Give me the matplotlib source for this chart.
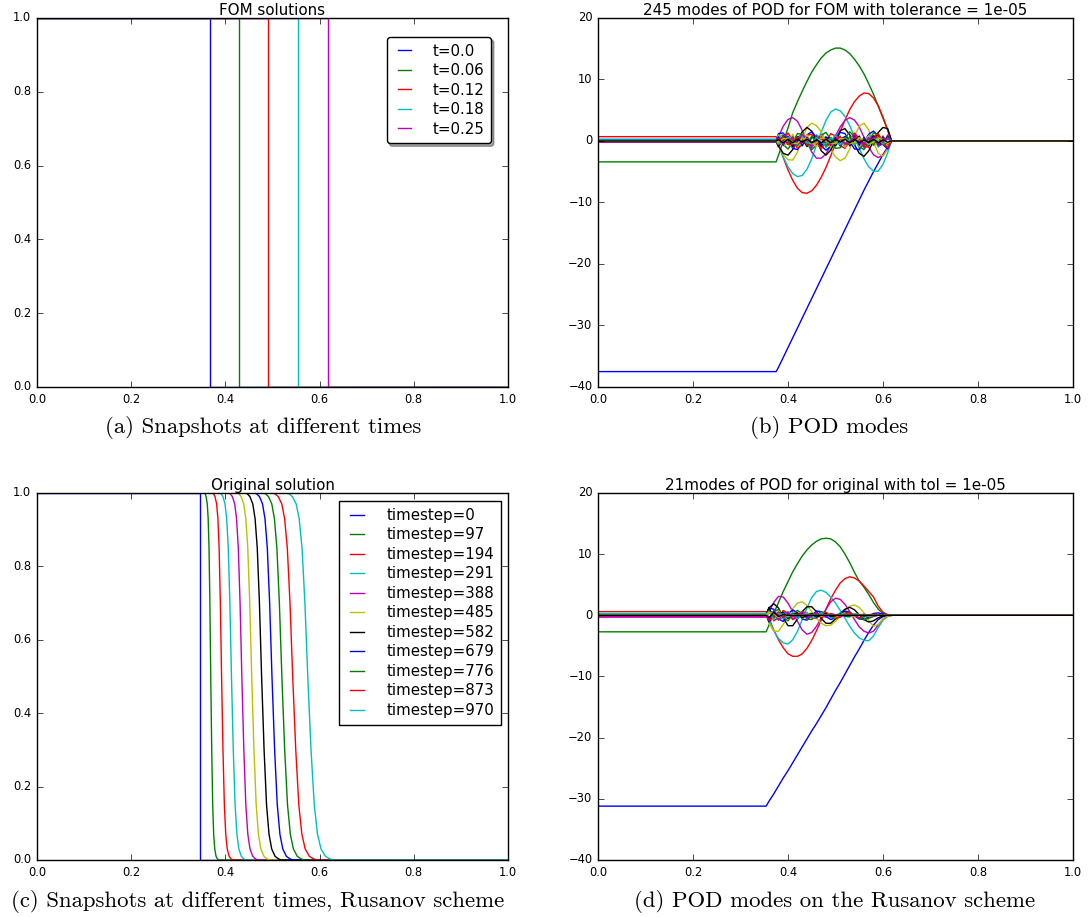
import numpy as np
import matplotlib
matplotlib.use('Agg')
import matplotlib.pyplot as plt

plt.style.use('classic')
plt.rcParams['figure.facecolor'] = 'white'
plt.rcParams['savefig.facecolor'] = 'white'

colors = ['b', 'g', 'r', 'c', 'm', 'y', 'k']

# (a) FOM snapshots: position of the shock at each time
fom_times = ['0.0', '0.06', '0.12', '0.18', '0.25']
fom_fronts = [0.367, 0.429, 0.490, 0.554, 0.618]

# (c) Rusanov snapshots: front centre and half width, shared front profile
rus_steps = [0, 97, 194, 291, 388, 485, 582, 679, 776, 873, 970]
rus_center = [0.346, 0.369, 0.392, 0.413, 0.435, 0.456, 0.477, 0.499, 0.520, 0.543, 0.575]
rus_width = [0.0, 0.0083, 0.0118, 0.0154, 0.017, 0.019, 0.021, 0.0225, 0.024, 0.026, 0.0276]
profile_u = [1.0, 0.998, 0.99, 0.97, 0.93, 0.85, 0.7, 0.5, 0.3, 0.15, 0.07, 0.03, 0.01, 0.003, 0.0]
profile_dx = [-1.7, -1.45, -1.18, -0.89, -0.66, -0.44, -0.22, 0.0, 0.25, 0.5, 0.75, 1.02, 1.36, 1.7, 2.0]

# (b) POD modes of the FOM, sampled on xb (flat before, zero after)
xb = [0.375, 0.38, 0.39, 0.40, 0.41, 0.42, 0.43, 0.44, 0.45, 0.46, 0.47, 0.48, 0.49,
      0.50, 0.51, 0.52, 0.53, 0.54, 0.55, 0.56, 0.57, 0.58, 0.59, 0.60, 0.61, 0.618]
modes_b = [
    [-37.5, -36.8, -35.2, -33.6, -32.0, -30.4, -28.8, -27.2, -25.6, -24.0, -22.4, -20.8, -19.2,
     -17.6, -16.0, -14.4, -12.8, -11.2, -9.6, -8.0, -6.5, -5.0, -3.6, -2.2, -1.0, 0.0],
    [-3.4, -2.3, -0.1, 2.1, 4.6, 6.4, 8.1, 9.7, 11.2, 12.4, 13.5, 14.3, 14.8,
     15.1, 15.1, 14.8, 14.2, 13.3, 12.2, 10.9, 9.3, 7.6, 5.7, 3.7, 1.7, 0.0],
    [0.7, -0.5, -2.7, -4.7, -6.4, -7.7, -8.4, -8.5, -8.1, -7.2, -5.9, -4.3, -2.4,
     -0.45, 1.55, 3.4, 5.1, 6.4, 7.3, 7.8, 7.7, 7.0, 5.7, 3.9, 1.8, 0.0],
    [0.3, -0.7, -2.6, -4.2, -5.3, -5.8, -5.6, -4.6, -2.9, -0.7, 1.4, 3.35, 4.7,
     5.2, 4.9, 4.0, 2.5, 0.7, -1.2, -2.9, -4.2, -4.9, -4.9, -3.8, -1.9, 0.0],
    [-0.2, 0.7, 2.4, 3.5, 3.8, 3.2, 1.7, -0.1, -1.8, -2.8, -2.8, -2.1, -0.8,
     0.8, 2.3, 3.35, 3.8, 3.4, 2.3, 0.6, -1.0, -2.25, -2.7, -2.3, -1.2, 0.0],
    [0.1, -0.7, -2.2, -3.05, -3.1, -1.8, 0.3, 2.2, 2.9, 2.5, 1.5, 0.1, -1.4,
     -2.6, -3.2, -2.8, -1.3, 0.8, 2.4, 2.9, 1.8, -0.2, -2.0, -2.5, -1.3, 0.0],
    [0.0, -0.8, -2.0, -2.3, -1.4, 0.0, 1.5, 2.2, 1.6, 0.1, -1.6, -2.3, -1.5,
     0.1, 1.7, 2.0, 1.0, -0.6, -2.0, -2.5, -1.6, 0.0, 1.4, 2.2, 2.0, 0.0],
    [0.0, 1.2, 1.3, 0.2, -1.2, -1.4, -0.3, 1.0, 1.5, 0.6, -0.8, -1.5, -0.9,
     0.5, 1.4, 1.2, -0.1, -1.3, -1.4, -0.2, 1.1, 1.6, 0.8, -0.6, -1.3, 0.0],
    [0.1, 0.8, -0.6, -1.3, -0.2, 1.2, 1.1, -0.4, -1.4, -0.7, 0.9, 1.4, 0.2,
     -1.2, -1.1, 0.4, 1.5, 0.7, -0.9, -1.4, -0.1, 1.3, 1.0, -0.5, -1.0, 0.0],
    [-0.1, -1.0, 0.3, 1.3, 0.1, -1.2, -0.6, 0.9, 1.1, -0.3, -1.3, -0.2, 1.2,
     0.8, -0.8, -1.2, 0.3, 1.3, 0.4, -1.1, -0.9, 0.7, 1.2, -0.1, -1.1, 0.0],
    [0.2, 0.5, 1.1, -0.4, -1.0, 0.7, 0.9, -0.9, -0.6, 1.0, 0.4, -1.1, -0.2,
     1.1, 0.1, -1.0, 0.5, 0.9, -0.7, -0.8, 0.9, 0.6, -1.0, -0.3, 0.8, 0.0],
    [-0.2, -0.4, 0.9, 0.6, -1.0, -0.4, 1.1, 0.2, -1.1, 0.1, 1.0, -0.5, -0.8,
     0.8, 0.5, -1.0, -0.2, 1.1, -0.1, -1.0, 0.5, 0.8, -0.8, -0.5, 1.0, 0.0],
    [0.0, 1.0, -0.8, -0.3, 1.1, -0.6, -0.6, 1.0, -0.3, -0.9, 0.9, 0.0, -1.0,
     0.7, 0.3, -1.0, 0.4, 0.6, -0.9, 0.1, 0.8, -0.7, -0.3, 0.9, -0.5, 0.0],
    [0.0, -0.9, 0.8, 0.2, -0.9, 0.7, 0.3, -0.9, 0.6, 0.4, -0.9, 0.5, 0.5,
     -0.8, 0.3, 0.7, -0.8, 0.1, 0.8, -0.6, -0.2, 0.8, -0.5, -0.4, 0.7, 0.0],
    [0.1, 0.7, -0.7, 0.8, -0.6, 0.7, -0.8, 0.6, -0.7, 0.8, -0.6, 0.7, -0.7,
     0.6, -0.8, 0.7, -0.6, 0.8, -0.7, 0.6, -0.7, 0.8, -0.6, 0.7, -0.5, 0.0],
    [-0.1, -0.6, 0.8, -0.5, 0.7, -0.8, 0.5, -0.7, 0.8, -0.5, 0.7, -0.8, 0.6,
     -0.6, 0.8, -0.5, 0.7, -0.7, 0.6, -0.8, 0.5, -0.7, 0.7, -0.6, 0.6, 0.0],
    [0.0, 0.4, 0.5, -0.6, -0.5, 0.6, 0.4, -0.6, -0.4, 0.6, 0.5, -0.5, -0.6,
     0.4, 0.6, -0.5, -0.5, 0.6, 0.4, -0.6, -0.4, 0.5, 0.6, -0.5, -0.4, 0.0],
    [0.1, -0.5, -0.3, 0.6, -0.2, -0.5, 0.6, -0.3, -0.4, 0.6, -0.3, -0.5, 0.5,
     -0.2, -0.6, 0.5, -0.1, -0.6, 0.5, 0.0, -0.6, 0.4, 0.1, -0.5, 0.4, 0.0],
    [-0.1, 0.3, -0.5, 0.2, 0.5, -0.4, -0.3, 0.5, -0.2, -0.5, 0.4, 0.2, -0.5,
     0.3, 0.4, -0.5, -0.1, 0.5, -0.3, -0.4, 0.5, 0.1, -0.5, 0.3, 0.3, 0.0],
    [0.0, -0.3, 0.4, 0.4, -0.4, -0.4, 0.4, 0.3, -0.5, -0.3, 0.5, 0.3, -0.4,
     -0.4, 0.4, 0.4, -0.4, -0.3, 0.5, 0.2, -0.5, -0.2, 0.5, 0.2, -0.4, 0.0],
    [0.0, 0.2, -0.3, 0.3, -0.3, 0.3, -0.2, 0.3, -0.3, 0.2, -0.3, 0.3, -0.3,
     0.3, -0.2, 0.3, -0.3, 0.3, -0.3, 0.2, -0.3, 0.3, -0.3, 0.2, -0.2, 0.0],
]

# (d) POD modes on the Rusanov scheme, sampled on xd
xd = [0.354, 0.36, 0.37, 0.38, 0.39, 0.40, 0.41, 0.42, 0.43, 0.44, 0.45, 0.46, 0.47, 0.48,
      0.49, 0.50, 0.51, 0.52, 0.53, 0.54, 0.55, 0.56, 0.57, 0.58, 0.59, 0.60, 0.61, 0.62]
modes_d = [
    [-31.2, -30.4, -29.2, -27.9, -26.6, -25.4, -24.1, -22.8, -21.5, -20.2, -18.9, -17.7, -16.4, -15.1,
     -13.7, -12.3, -11.0, -9.6, -8.2, -6.8, -5.5, -4.1, -2.8, -1.6, -0.7, -0.2, -0.05, 0.0],
    [-2.7, -1.6, 0.3, 2.1, 3.9, 5.5, 7.1, 8.45, 9.7, 10.7, 11.5, 12.1, 12.5, 12.6,
     12.5, 12.0, 11.2, 10.0, 8.6, 7.0, 5.6, 4.6, 3.4, 2.1, 1.0, 0.3, 0.05, 0.0],
    [0.6, -0.5, -2.4, -4.0, -5.3, -6.3, -6.7, -6.7, -6.3, -5.4, -4.1, -2.5, -0.8, 1.0,
     2.7, 4.1, 5.3, 6.0, 6.3, 6.1, 5.6, 4.8, 3.9, 3.0, 1.5, 0.5, 0.1, 0.0],
    [0.3, -0.8, -2.5, -3.8, -4.5, -4.7, -4.0, -2.6, -0.7, 1.2, 2.9, 3.9, 4.1, 3.75,
     3.0, 2.0, 0.8, -0.5, -1.8, -2.9, -3.7, -4.1, -4.15, -3.4, -2.0, -0.8, -0.2, 0.0],
    [-0.3, 0.6, 2.1, 3.1, 3.0, 2.0, 0.6, -1.0, -2.4, -3.1, -2.8, -1.8, -0.4, 1.0,
     2.2, 2.8, 2.6, 1.8, 0.6, -0.7, -1.9, -2.6, -2.9, -2.6, -1.6, -0.6, -0.1, 0.0],
    [0.2, -1.3, -2.6, -2.6, -1.5, -0.2, 1.1, 2.0, 2.2, 1.6, 0.6, -0.5, -1.3, -1.7,
     -1.6, -1.0, -0.1, 0.8, 1.5, 1.7, 1.3, 0.4, -0.8, -1.8, -1.5, -0.6, -0.1, 0.0],
    [0.0, 1.2, 1.9, 1.2, -0.4, -1.7, -1.7, -0.6, 0.6, 1.4, 1.4, 0.6, -0.5, -1.3,
     -1.3, -0.6, 0.3, 1.0, 1.3, 0.9, 0.1, -0.7, -1.1, -0.9, -0.4, -0.1, 0.0, 0.0],
    [0.0, 1.2, 1.0, -0.6, -1.0, 0.2, 0.9, 0.4, -0.6, -0.8, 0.0, 0.7, 0.6, -0.2,
     -0.7, -0.4, 0.3, 0.7, 0.5, -0.1, -0.6, -0.7, -0.3, 0.3, 0.4, 0.2, 0.05, 0.0],
    [0.1, -1.0, 0.5, 1.0, -0.3, -0.9, 0.2, 0.8, 0.3, -0.6, -0.7, 0.1, 0.6, 0.4,
     -0.3, -0.6, -0.2, 0.4, 0.5, 0.0, -0.5, -0.7, -0.5, -0.2, 0.0, 0.05, 0.0, 0.0],
    [-0.1, 0.9, -0.9, -0.4, 0.8, 0.3, -0.7, -0.3, 0.6, 0.4, -0.4, -0.5, 0.3, 0.5,
     0.0, -0.5, -0.3, 0.3, 0.4, 0.0, -0.4, -0.3, 0.1, 0.2, 0.1, 0.0, 0.0, 0.0],
    [0.2, -0.7, 0.8, -0.3, -0.6, 0.6, 0.2, -0.6, 0.1, 0.5, -0.3, -0.4, 0.4, 0.2,
     -0.4, 0.0, 0.4, -0.2, -0.3, 0.3, 0.1, -0.3, -0.1, 0.1, 0.0, 0.0, 0.0, 0.0],
    [-0.2, 0.6, 0.4, -0.8, 0.3, 0.5, -0.6, 0.1, 0.5, -0.4, -0.2, 0.4, -0.1, -0.3,
     0.3, 0.1, -0.3, 0.1, 0.2, -0.2, 0.0, 0.2, -0.1, -0.1, 0.0, 0.0, 0.0, 0.0],
    [0.0, -0.5, -0.6, 0.7, 0.0, -0.6, 0.4, 0.3, -0.5, 0.1, 0.4, -0.3, -0.2, 0.3,
     0.0, -0.3, 0.1, 0.2, -0.2, -0.1, 0.2, 0.0, -0.1, 0.0, 0.0, 0.0, 0.0, 0.0],
    [0.0, 1.3, -0.5, 0.2, 0.5, -0.5, 0.1, 0.4, -0.4, 0.0, 0.3, -0.3, 0.0, 0.3,
     -0.2, -0.1, 0.2, -0.1, -0.1, 0.1, 0.0, -0.1, 0.0, 0.0, 0.0, 0.0, 0.0, 0.0],
    [0.1, -1.1, 0.7, -0.4, 0.4, -0.3, 0.3, -0.2, 0.2, -0.2, 0.1, -0.1, 0.1, -0.1, 0.1] + [0.0] * 13,
    [0.0, 0.8, -0.3, 0.5, -0.4, 0.2, -0.2, 0.2, -0.1, 0.1, -0.1, 0.1] + [0.0] * 16,
    [-0.1, -0.8, -0.2, 0.5, -0.3, 0.2, -0.2, 0.1, -0.1, 0.1] + [0.0] * 18,
    [0.2, 0.6, -0.7, 0.3, 0.1, -0.3, 0.2, -0.1, 0.1] + [0.0] * 19,
    [-0.1, -0.6, 0.6, 0.0, -0.3, 0.2, -0.1, 0.1] + [0.0] * 20,
    [0.0, 0.5, 0.3, -0.4, 0.2, -0.1, 0.1] + [0.0] * 21,
    [0.0, -0.4, 0.5, -0.2, 0.1] + [0.0] * 23,
]

fig = plt.figure(figsize=(10.9, 9.17), dpi=100)
ax_a = fig.add_axes([0.0339, 0.578, 0.4321, 0.4024])
ax_b = fig.add_axes([0.5486, 0.578, 0.4358, 0.4024])
ax_c = fig.add_axes([0.0339, 0.0622, 0.4321, 0.4002])
ax_d = fig.add_axes([0.5486, 0.0622, 0.4358, 0.4002])

tick_fs = 8.3
title_fs = 10.9
leg_fs = 10.8

# (a)
for i, (t, xf) in enumerate(zip(fom_times, fom_fronts)):
    ax_a.plot([0, xf, xf, 1], [1, 1, 0, 0], color=colors[i % 7], lw=1, label='t=' + t)
ax_a.set_xlim(0, 1)
ax_a.set_ylim(0, 1)
ax_a.set_title('FOM solutions', fontsize=title_fs, pad=2)
ax_a.legend(loc='upper right', bbox_to_anchor=(0.964, 0.9485), fontsize=leg_fs,
            fancybox=True, shadow=True, handlelength=1.5, handletextpad=1.1,
            labelspacing=0.3, borderpad=0.45, borderaxespad=0)

# (b)
for i, m in enumerate(modes_b):
    ax_b.plot([0.0] + xb + [1.0], [m[0]] + m + [0.0], color=colors[i % 7], lw=1)
ax_b.set_xlim(0, 1)
ax_b.set_ylim(-40, 20)
ax_b.set_title('245 modes of POD for FOM with tolerance = 1e-05', fontsize=title_fs, pad=2)

# (c)
for i, (s, c, w) in enumerate(zip(rus_steps, rus_center, rus_width)):
    xs = [0.0] + [c + w * d for d in profile_dx] + [1.0]
    ys = [1.0] + profile_u + [0.0]
    ax_c.plot(xs, ys, color=colors[i % 7], lw=1, label='timestep=%d' % s)
ax_c.set_xlim(0, 1)
ax_c.set_ylim(0, 1)
ax_c.set_title('Original solution', fontsize=title_fs, pad=2)
ax_c.legend(loc='upper right', bbox_to_anchor=(0.985, 0.978), fontsize=leg_fs,
            handlelength=1.5, handletextpad=1.2, labelspacing=0.3,
            borderpad=0.45, borderaxespad=0)

# (d)
for i, m in enumerate(modes_d):
    ax_d.plot([0.0] + xd + [1.0], [m[0]] + m + [0.0], color=colors[i % 7], lw=1)
ax_d.set_xlim(0, 1)
ax_d.set_ylim(-40, 20)
ax_d.set_title('21modes of POD for original with tol = 1e-05', fontsize=title_fs, pad=2)

for ax in [ax_a, ax_b, ax_c, ax_d]:
    ax.set_xticks(np.arange(0, 1.01, 0.2))
    ax.tick_params(labelsize=tick_fs)
for ax in [ax_a, ax_c]:
    ax.set_yticks(np.arange(0, 1.01, 0.2))
for ax in [ax_b, ax_d]:
    ax.set_yticks(np.arange(-40, 21, 10))

cap_font = dict(family='cmr10', fontsize=16.4, ha='center', va='center')
fig.text(0.2417, 0.5333, '(a) Snapshots at different times', **cap_font)
fig.text(0.761, 0.5333, '(b) POD modes', **cap_font)
fig.text(0.2362, 0.0164, '(c) Snapshots at different times, Rusanov scheme', **cap_font)
fig.text(0.766, 0.0164, '(d) POD modes on the Rusanov scheme', **cap_font)

fig.savefig('out.png', dpi=100)
